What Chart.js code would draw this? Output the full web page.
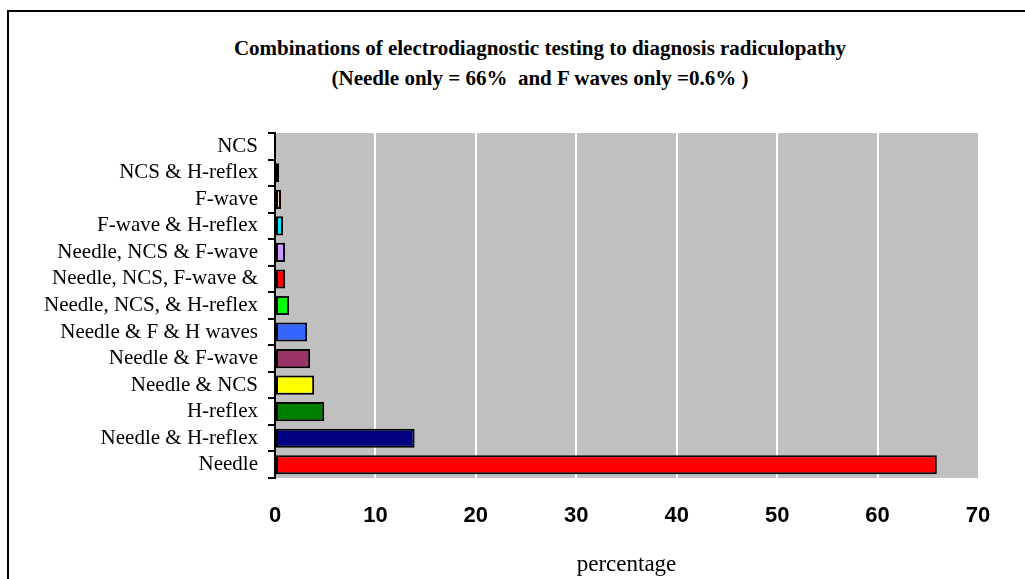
<!DOCTYPE html>
<html>

<head>
	<meta charset="utf-8">
	<script src="https://cdn.jsdelivr.net/npm/chart.js@4.4.1/dist/chart.umd.min.js"></script>
	<style>
		body {
			margin: 0;
			background: #fff;
			overflow: hidden;
		}

		#frame {
			position: absolute;
			left: 7px;
			top: 10px;
			width: 1100px;
			height: 700px;
			border: 2px solid #000;
		}

		#title {
			position: absolute;
			left: 0;
			top: 33px;
			width: 1080px;
			text-align: center;
			font-family: "Liberation Serif", "Times New Roman", serif;
			font-weight: bold;
			font-size: 21px;
			line-height: 30px;
			white-space: pre;
		}

		#myChart {
			position: absolute;
			left: 0;
			top: 0;
		}
	</style>
	<title>Combinations of electrodiagnostic testing</title>
</head>

<body>
	<div id="frame"></div>
	<div id="title">Combinations of electrodiagnostic testing to diagnosis radiculopathy
(Needle only = 66%  and F waves only =0.6% )</div>
	<canvas id="myChart" width="1025" height="579"></canvas>

	<script>
		// Категории сверху вниз
		var categories = ["NCS", "NCS & H-reflex", "F-wave", "F-wave & H-reflex", "Needle, NCS & F-wave",
			"Needle, NCS, F-wave &", "Needle, NCS, & H-reflex", "Needle & F & H waves", "Needle & F-wave",
			"Needle & NCS", "H-reflex", "Needle & H-reflex", "Needle"];
		// Проценты
		var percentages = [0, 0.4, 0.6, 0.8, 1, 1, 1.4, 3.2, 3.5, 3.9, 4.9, 13.9, 65.9];
		var barColors = ["#800000", "#C80000", "#FFCC99", "#00E6FF", "#CC99FF", "#FF0000", "#00FF00",
			"#3366FF", "#993366", "#FFFF00", "#008000", "#000080", "#FF0000"];
		var xTicks = [0, 10, 20, 30, 40, 50, 60, 70];

		// Серый фон области графика
		var plotBg = {
			id: 'plotBg',
			beforeDraw: function (chart) {
				var a = chart.chartArea;
				var ctx = chart.ctx;
				ctx.save();
				ctx.fillStyle = "#C0C0C0";
				ctx.fillRect(a.left, a.top, a.right - a.left, a.bottom - a.top);
				ctx.restore();
			}
		};

		var ctx = document.getElementById('myChart').getContext('2d');
		var myChart = new Chart(ctx, {
			type: 'bar',
			data: {
				labels: categories,
				datasets: [{
					data: percentages,
					backgroundColor: barColors,
					borderColor: "#000",
					borderWidth: 2,
					borderSkipped: false,
					barPercentage: 0.72,
					categoryPercentage: 1
				}]
			},
			options: {
				indexAxis: 'y',
				responsive: false,
				animation: false,
				layout: { padding: { top: 133, right: 47, left: 0, bottom: 0 } },
				plugins: {
					legend: { display: false },
					tooltip: { enabled: false }
				},
				scales: {
					x: {
						min: 0,
						max: 70,
						afterFit: function (s) { s.height = 101; },
						afterBuildTicks: function (s) {
							s.ticks = xTicks.map(function (v) { return { value: v }; });
						},
						grid: {
							color: function (c) {
								var v = c.tick ? c.tick.value : 0;
								return (v == 0 || v == 70) ? "rgba(0,0,0,0)" : "#fff";
							},
							lineWidth: 2,
							drawTicks: false
						},
						border: { display: false },
						ticks: {
							color: "#000",
							padding: 25,
							font: { family: "'Liberation Sans', Arial", size: 22, weight: 'bold' }
						},
						title: {
							display: true,
							text: "percentage",
							color: "#000",
							padding: { top: 0, bottom: 0 },
							font: { family: "'Liberation Serif', 'Times New Roman'", size: 23 }
						}
					},
					y: {
						afterFit: function (s) { s.width = 275; },
						grid: {
							drawOnChartArea: false,
							color: "#000",
							lineWidth: 2,
							tickLength: 7
						},
						border: { display: true, color: "#000", width: 2 },
						ticks: {
							color: "#000",
							padding: 10,
							autoSkip: false,
							font: { family: "'Liberation Serif', 'Times New Roman'", size: 21 }
						}
					}
				}
			},
			plugins: [plotBg]
		});
	</script>
</body>

</html>
